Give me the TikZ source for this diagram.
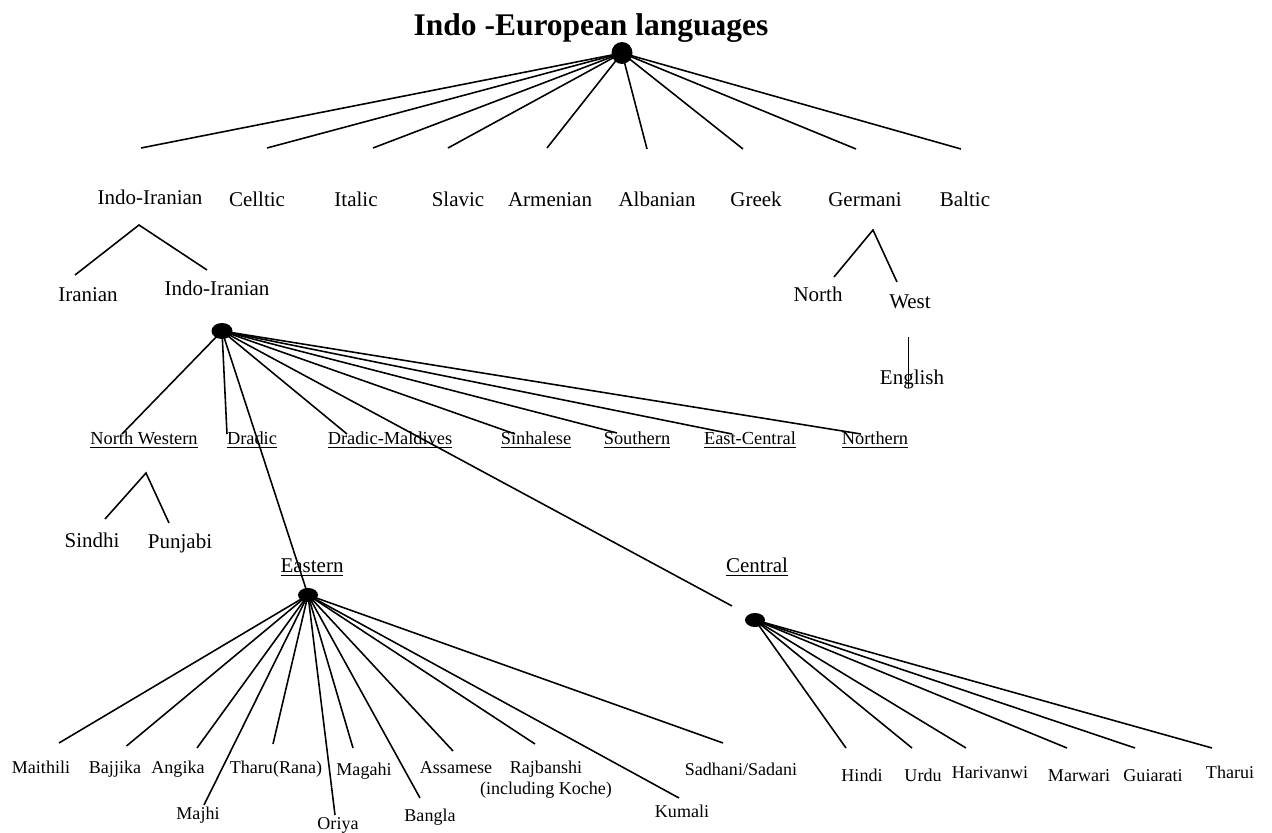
\documentclass[tikz,border=0pt]{standalone}
\usepackage{fontspec}
\setmainfont{Liberation Serif}
\usetikzlibrary{shapes.geometric}
\begin{document}
\begin{tikzpicture}[x=0.5714pt,y=-0.5714pt,
  lbl/.style={font=\fontsize{12}{14}\selectfont, anchor=base, inner sep=0pt},
  ulb/.style={font=\fontsize{10.5}{12}\selectfont, anchor=base, inner sep=0pt},
  sml/.style={font=\fontsize{10.3}{12}\selectfont, anchor=base, inner sep=0pt},
  dot/.style={ellipse, fill=black, inner sep=0pt},
  edge/.style={line width=0.9pt}]
\useasboundingbox (0,0) rectangle (1272,833);
% title
\node[anchor=base, inner sep=0pt, font=\fontsize{18}{20}\selectfont\bfseries] (title) at (591,36) {Indo -European languages};
% dots
\node[dot, minimum width=21pt*0.5714, minimum height=22pt*0.5714] (top) at (622,53) {};
\node[dot, minimum width=21pt*0.5714, minimum height=16pt*0.5714] (mid) at (222,331) {};
\node[dot, minimum width=20pt*0.5714, minimum height=14pt*0.5714] (east) at (308,595) {};
\node[dot, minimum width=20pt*0.5714, minimum height=14pt*0.5714] (cent) at (755,620) {};
% row 1 ends
\coordinate (e1) at (141,148);
\coordinate (e2) at (267,148);
\coordinate (e3) at (373,148);
\coordinate (e4) at (448,148);
\coordinate (e5) at (547,148);
\coordinate (e6) at (647,149);
\coordinate (e7) at (743,149);
\coordinate (e8) at (856,149);
\coordinate (e9) at (961,149);
\foreach \i in {1,...,9} {\draw[edge] (top.center) -- (e\i);}
% row 1 labels
\node[lbl] (indoiranian) at (150,205) {Indo-Iranian};
\node[lbl] (celltic) at (257,207) {Celltic};
\node[lbl] (italic) at (356,207) {Italic};
\node[lbl] (slavic) at (458,207) {Slavic};
\node[lbl] (armenian) at (550,207) {Armenian};
\node[lbl] (albanian) at (657,207) {Albanian};
\node[lbl] (greek) at (756,207) {Greek};
\node[lbl] (germani) at (865,207) {Germani};
\node[lbl] (baltic) at (965,207) {Baltic};
% Indo-Iranian subtree
\coordinate (iia) at (139,225);
\coordinate (iil) at (75,275);
\coordinate (iir) at (207,270);
\draw[edge] (iil) -- (iia) -- (iir);
\node[lbl] (iranian) at (88,302) {Iranian};
\node[lbl] (indoiranian2) at (217,296) {Indo-Iranian};
% Germani subtree
\coordinate (ga) at (873,230);
\coordinate (gl) at (834,277);
\coordinate (gr) at (897,282);
\draw[edge] (gl) -- (ga) -- (gr);
\node[lbl] (north) at (818,302) {North};
\node[lbl] (west) at (910,309) {West};
\coordinate (ena) at (908.6,337);
\coordinate (enb) at (908.6,388);
\draw[edge] (ena) -- (enb);
\node[lbl] (english) at (912,385) {English};
% middle fan
\coordinate (m1) at (122,434);
\coordinate (m2) at (227,434);
\coordinate (m3) at (347,434);
\coordinate (m4) at (515,434);
\coordinate (m5) at (617,433);
\coordinate (m6) at (732,434);
\coordinate (m7) at (861,434);
\foreach \i in {1,...,7} {\draw[edge] (mid.center) -- (m\i);}
\node[ulb] (nw) at (144,445) {\underline{North Western}};
\node[ulb] (dradic) at (252,445) {\underline{Dradic}};
\node[ulb] (dm) at (390,445) {\underline{Dradic-Maldives}};
\node[ulb] (sinh) at (536,445) {\underline{Sinhalese}};
\node[ulb] (south) at (637,445) {\underline{Southern}};
\node[ulb] (ec) at (750,445) {\underline{East-Central}};
\node[ulb] (northern) at (875,445) {\underline{Northern}};
% North Western subtree
\coordinate (nwa) at (146,473);
\coordinate (nwl) at (105,519);
\coordinate (nwr) at (169,523);
\draw[edge] (nwl) -- (nwa) -- (nwr);
\node[lbl] (sindhi) at (92,548) {Sindhi};
\node[lbl] (punjabi) at (180,549) {Punjabi};
% Eastern and Central links
\draw[edge] (mid.center) -- (east.center);
\coordinate (cend) at (732,606);
\draw[edge] (mid.center) -- (cend);
\node[lbl] (eastern) at (312,573) {\underline{Eastern}};
\node[lbl] (central) at (757,573) {\underline{Central}};
% Eastern fan
\coordinate (b1) at (59,743);
\coordinate (b2) at (126.5,746);
\coordinate (b3) at (197,748);
\coordinate (b4) at (204,805);
\coordinate (b5) at (273,744);
\coordinate (b6) at (335,815);
\coordinate (b7) at (353,748);
\coordinate (b8) at (420,798);
\coordinate (b9) at (453,751);
\coordinate (b10) at (535,744);
\coordinate (b11) at (679,798);
\coordinate (b12) at (723,743);
\foreach \i in {1,...,12} {\draw[edge] (east.center) -- (b\i);}
\node[sml] (maithili) at (41,773) {Maithili};
\node[sml] (bajjika) at (115,773) {Bajjika};
\node[sml] (angika) at (178,773) {Angika};
\node[sml] (majhi) at (198,819) {Majhi};
\node[sml] (tharu) at (276,773) {Tharu(Rana)};
\node[sml] (oriya) at (338,829) {Oriya};
\node[sml] (magahi) at (364,775) {Magahi};
\node[sml] (bangla) at (430,821) {Bangla};
\node[sml] (assamese) at (456,773) {Assamese};
\node[font=\fontsize{10.3}{12}\selectfont, inner sep=0pt, anchor=north, align=center] (rajbanshi) at (546,761) {Rajbanshi\\(including Koche)};
\node[sml] (kumali) at (682,817) {Kumali};
\node[sml] (sadhani) at (741,775) {Sadhani/Sadani};
% Central fan
\coordinate (c1) at (846,748);
\coordinate (c2) at (912,748);
\coordinate (c3) at (966,748);
\coordinate (c4) at (1067,748);
\coordinate (c5) at (1135,748);
\coordinate (c6) at (1212,748);
\foreach \i in {1,...,6} {\draw[edge] (cent.center) -- (c\i);}
\node[sml] (hindi) at (862,781) {Hindi};
\node[sml] (urdu) at (923,781) {Urdu};
\node[sml] (hari) at (990,778) {Harivanwi};
\node[sml] (marwari) at (1079,781) {Marwari};
\node[sml] (guiarati) at (1153,781) {Guiarati};
\node[sml] (tharui) at (1230,778) {Tharui};
\end{tikzpicture}
\end{document}
